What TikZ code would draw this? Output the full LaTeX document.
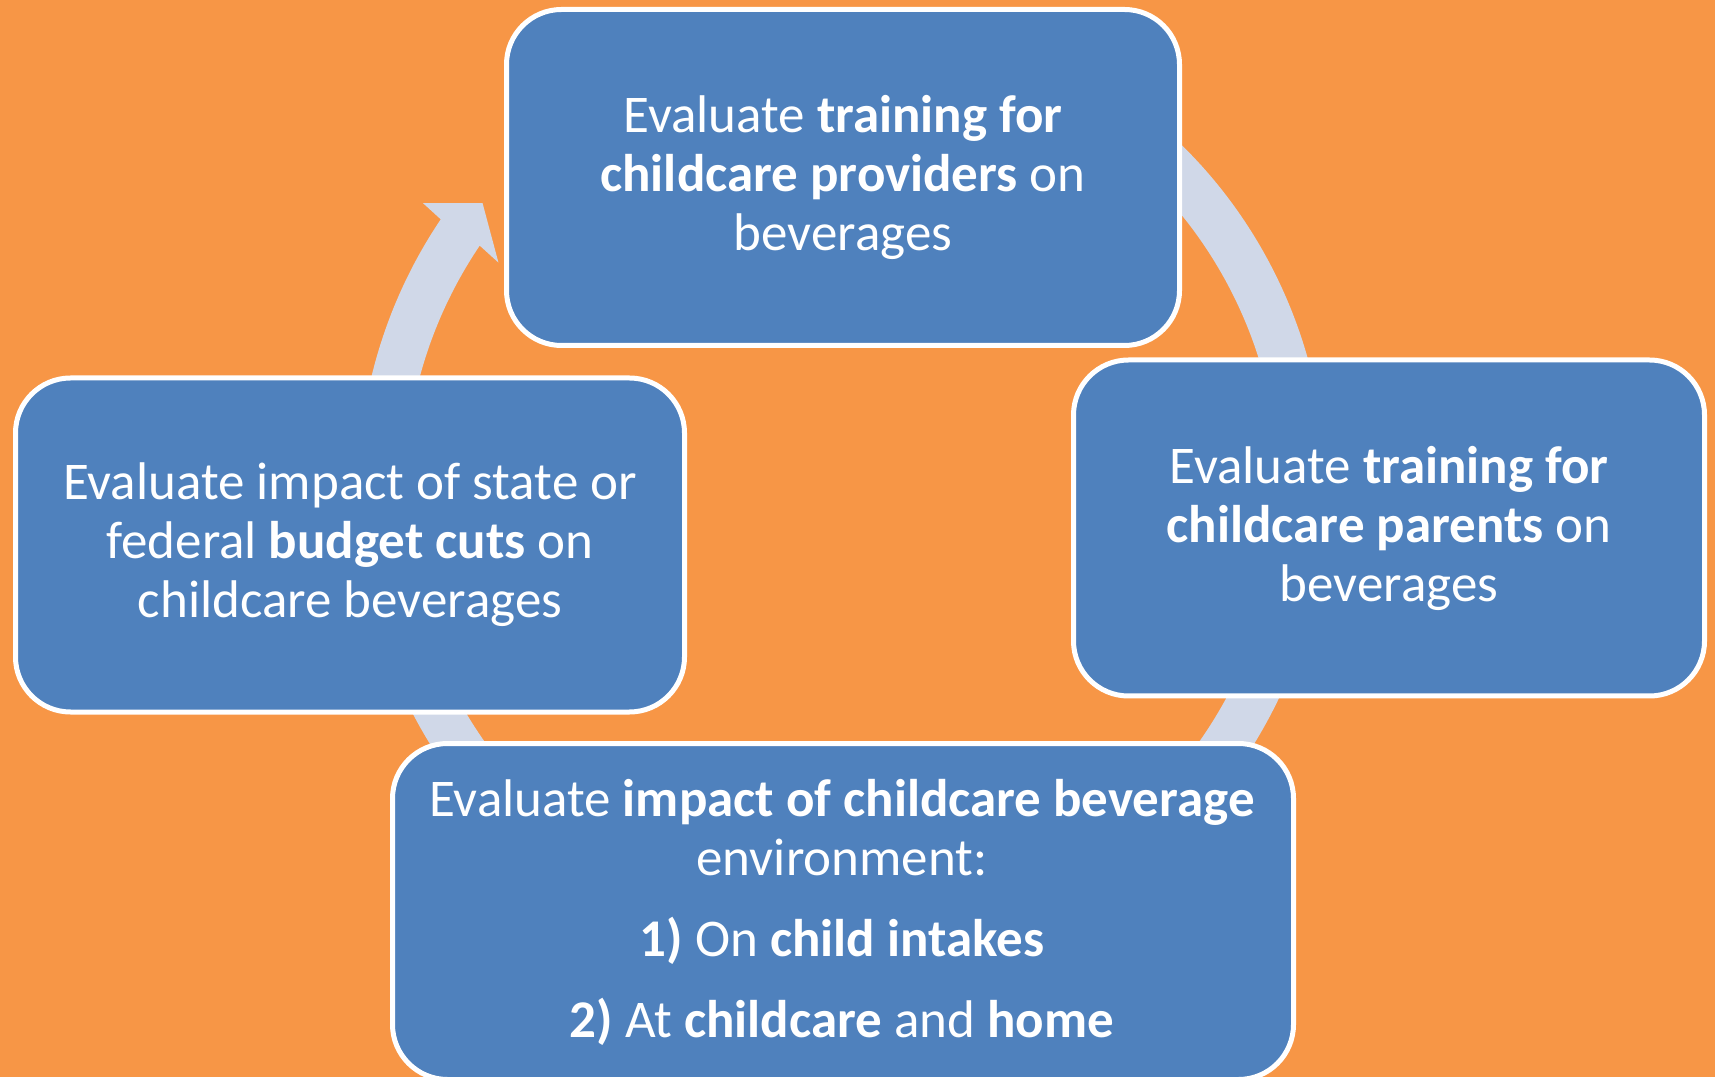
\documentclass[tikz,border=0pt]{standalone}
\usepackage{fontspec}
\setmainfont{Carlito}
\definecolor{bgorange}{HTML}{F79646}
\definecolor{boxblue}{HTML}{4F81BD}
\definecolor{ringcol}{HTML}{D0D8E8}
\begin{document}
\begin{tikzpicture}[x=1pt,y=1pt,
  stepbox/.style={draw=white, line width=5pt, fill=boxblue, rounded corners=55pt,
    text=white, align=center, font=\fontsize{53}{59}\selectfont, inner sep=0pt}]
\fill[bgorange] (0,0) rectangle (1715,1077);
\useasboundingbox (0,0) rectangle (1715,1077);
% circular arrow
\begin{scope}[shift={(842,587)}]
\fill[ringcol] (60:484) arc[start angle=60, end angle=-214, radius=484]
  -- (-214.4:508) -- (-218.6:460) -- (-213.5:412) -- (-214:437)
  arc[start angle=-214, end angle=60, radius=437] -- cycle;
\end{scope}
% boxes
\node[stepbox, minimum width=673pt, minimum height=336pt] (top) at (843,899.5)
  {Evaluate \textbf{training for}\\ \textbf{childcare providers} on\\ beverages};
\node[stepbox, minimum width=631pt, minimum height=336pt] (right) at (1389,549)
  {Evaluate \textbf{training for}\\ \textbf{childcare parents} on\\ beverages};
\node[stepbox, minimum width=669pt, minimum height=334pt] (left) at (350,532)
  {Evaluate impact of state or\\ federal \textbf{budget cuts} on\\ childcare beverages};
\node[stepbox, minimum width=901pt, minimum height=336pt] (bottom) at (843,165.5) {};
\node[text=white, align=center, font=\fontsize{53}{59}\selectfont, inner sep=0pt]
  (btext) at (842,165)
  {Evaluate \textbf{impact of childcare beverage}\\ environment:\\[22pt]
   \textbf{1)} On \textbf{child intakes}\\[22pt]
   \textbf{2)} At \textbf{childcare} and \textbf{home}};
\end{tikzpicture}
\end{document}
